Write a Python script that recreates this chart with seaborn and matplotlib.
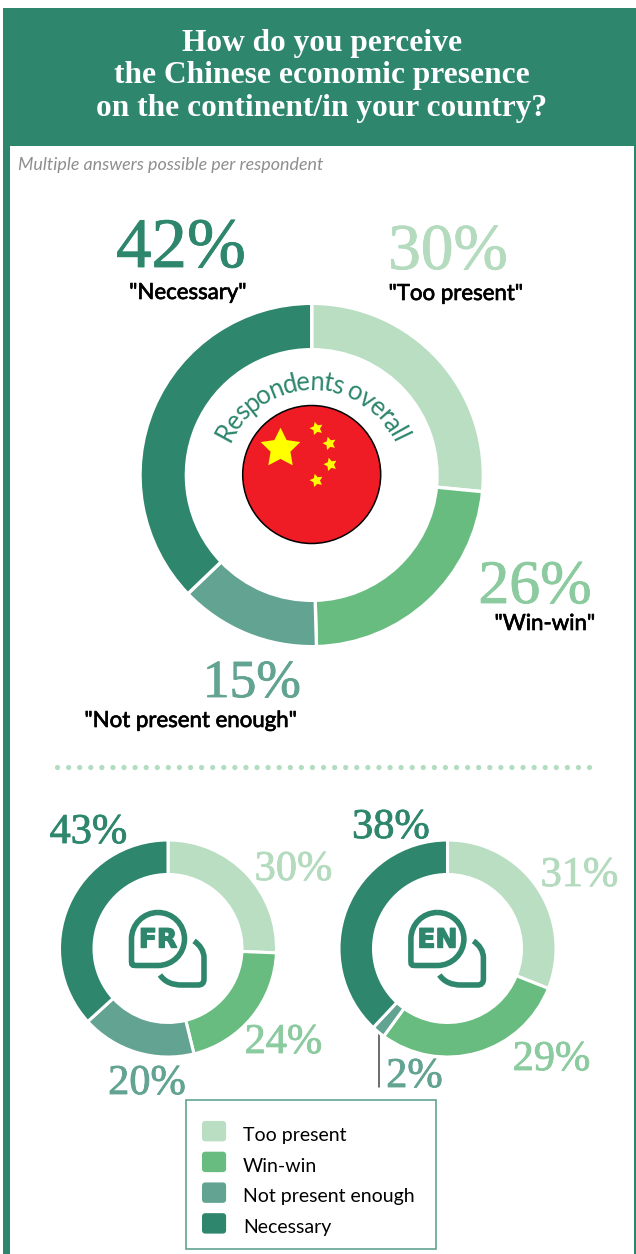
# chinese_presence_donuts.py
# Survey donuts: overall respondents, then French and English speakers.

import matplotlib
matplotlib.use("Agg")
import matplotlib.pyplot as plt
import matplotlib.patheffects as pe
import seaborn as sns
import numpy as np
from matplotlib.font_manager import FontProperties
from matplotlib.legend_handler import HandlerPatch
from matplotlib.patches import Circle, FancyBboxPatch, PathPatch, Patch, Rectangle
from matplotlib.path import Path

categories = ["Too present", "Win-win", "Not present enough", "Necessary"]
overall_values = [30, 26, 15, 42]
fr_values = [30, 24, 20, 43]
en_values = [31, 29, 2, 38]

title = "How do you perceive\nthe Chinese economic presence\non the continent/in your country?"
subtitle = "Multiple answers possible per respondent"
ring_text = "Respondents overall"

W, H = 636, 1254
GREEN = "#2E866D"
MUTED = "#62A391"
slice_colors = sns.color_palette(["#BADEC2", "#69BC7F", MUTED, GREEN])
label_colors = ["#B5DBBF", "#8CCB9F", MUTED, GREEN]

NUM_FONT = "Liberation Serif"
TXT_FONT = "Lato"

sns.set_theme(style="white")
plt.rcParams["font.family"] = [TXT_FONT, "DejaVu Sans"]

fig = plt.figure(figsize=(W / 100, H / 100), dpi=100)
fig.patch.set_facecolor("white")

# Full-figure axes in pixel units (y downwards) for frame, text and icons
ax = fig.add_axes([0, 0, 1, 1])
ax.set_xlim(0, W)
ax.set_ylim(H, 0)
ax.axis("off")


def donut(values, cx, cy, outer, inner, edge):
    # the white slice edge eats into the ring, so draw it a bit wider
    grow = edge * 0.69
    big, small = outer + grow, inner - grow
    pie_ax = fig.add_axes([(cx - big) / W, 1 - (cy + big) / H, 2 * big / W, 2 * big / H])
    pie_ax.pie(values, colors=slice_colors, startangle=90, counterclock=False, radius=1,
               wedgeprops={"width": 1 - small / big, "edgecolor": "white", "linewidth": edge})
    pie_ax.set_xlim(-1, 1)
    pie_ax.set_ylim(-1, 1)
    pie_ax.axis("off")


def pct(value, idx, x, baseline, size):
    t = ax.text(x, baseline, f"{value}%", color=label_colors[idx], fontsize=size, ha="center",
                va="baseline", family=NUM_FONT)
    t.set_path_effects([pe.withStroke(linewidth=0.6, foreground=label_colors[idx])])


def quoted(name, x, baseline):
    t = ax.text(x, baseline, f'"{name}"', color="black", fontsize=16, ha="center", va="baseline")
    t.set_path_effects([pe.withStroke(linewidth=0.5, foreground="black")])


def bubble_icon(dx, code):
    lw = 4
    cx, cy, r = 158 + dx, 939, 26.5
    k = 0.552 * r
    verts = [(cx, cy - r),
             (cx + k, cy - r), (cx + r, cy - k), (cx + r, cy),
             (cx + r, cy + k), (cx + k, cy + r), (cx, cy + r),
             (cx - 20, cy + r),
             (cx - 26.5, cy + r), (cx - 26.5, cy + r), (cx - 26.5, cy + 20),
             (cx - r, cy),
             (cx - r, cy - k), (cx - k, cy - r), (cx, cy - r)]
    codes = [Path.MOVETO] + [Path.CURVE4] * 6 + [Path.LINETO] + [Path.CURVE4] * 3 + [Path.LINETO] + [Path.CURVE4] * 3
    ax.add_patch(PathPatch(Path(verts, codes), fill=False, edgecolor=GREEN, lw=lw))
    verts2 = [(194 + dx, 941),
              (200 + dx, 945), (204 + dx, 951), (204 + dx, 958),
              (204 + dx, 979),
              (204 + dx, 983), (202 + dx, 985), (198 + dx, 985),
              (182 + dx, 985),
              (172 + dx, 985), (165 + dx, 982), (160 + dx, 975)]
    codes2 = [Path.MOVETO] + [Path.CURVE4] * 3 + [Path.LINETO] + [Path.CURVE4] * 3 + [Path.LINETO] + [Path.CURVE4] * 3
    ax.add_patch(PathPatch(Path(verts2, codes2), fill=False, edgecolor=GREEN, lw=lw))
    t = ax.text(cx, cy + 1.5, code, color=GREEN, fontsize=19, fontweight="bold", ha="center", va="center",
                family="DejaVu Sans")
    t.set_path_effects([pe.withStroke(linewidth=1.0, foreground=GREEN)])


class RoundHandle(HandlerPatch):
    def create_artists(self, legend, orig, xd, yd, width, height, fontsize, trans):
        # swatches sit slightly above the text baseline centre
        box = FancyBboxPatch((-xd + 2, -yd + 4.2), width - 4, height - 4, boxstyle="round,pad=2,rounding_size=2.5",
                             facecolor=orig.get_facecolor(), edgecolor="none", transform=trans)
        return [box]


# --- Frame ---
ax.add_patch(Rectangle((3, 8), W - 3, 138, color=GREEN, lw=0))
ax.add_patch(Rectangle((3, 146), 7, H - 146, color=GREEN, lw=0))
ax.add_patch(Rectangle((634, 146), 2, H - 146, color=GREEN, lw=0))
ax.text(322, 76, title, color="white", fontsize=22.6, fontweight="bold", ha="center", va="center",
        family="Liberation Serif", linespacing=1.18)
ax.text(18, 170, subtitle, color="#8E8E8E", fontsize=12.9, style="italic", ha="left", va="baseline")

# --- Overall ---
donut(overall_values, 311.7, 475, 170, 127, 2.4)
pct(overall_values[3], 3, 181, 267, 51)
pct(overall_values[0], 0, 448, 269, 47)
pct(overall_values[1], 1, 535, 603, 44.5)
pct(overall_values[2], 2, 252, 697, 38.5)
quoted(categories[3], 188, 299)
quoted(categories[0], 456, 300)
quoted(categories[1], 545, 630)
quoted(categories[2], 191, 727)

# Flag in the middle
ax.add_patch(Circle((311.7, 474.5), 69, facecolor="#EF1C25", edgecolor="black", lw=1.1))
ax.scatter([280], [448], marker=(5, 1, 0), s=900, color="#FFFF00", lw=0, zorder=3)
ax.scatter([316, 329, 330, 315.7], [427.7, 442.7, 464, 480], marker=(5, 1, 15), s=100,
           color="#FFFF00", lw=0, zorder=3)

# Curved caption around the flag
renderer = fig.canvas.get_renderer()
ring_size = 18.5
ring_props = FontProperties(family=TXT_FONT, size=ring_size)
advance = [renderer.get_text_width_height_descent(ring_text[:i], ring_props, False)[0] if i else 0
           for i in range(len(ring_text) + 1)]
ring_total = advance[-1]
ring_cx, ring_cy, ring_r = 312, 479, 89
ring_span = np.radians(132)
for i, ch in enumerate(ring_text):
    mid = (advance[i] + advance[i + 1]) / 2
    ang = -ring_span / 2 + ring_span * mid / ring_total
    ax.text(ring_cx + ring_r * np.sin(ang), ring_cy - ring_r * np.cos(ang), ch, color=GREEN,
            fontsize=ring_size, rotation=-np.degrees(ang), rotation_mode="anchor",
            ha="center", va="baseline")

# --- Separator ---
ax.plot([56.7, 592], [767, 767], color="#B2DDC0", lw=3.8, linestyle=(0, (0.01, 2.09)), dash_capstyle="round")

# --- By language ---
donut(fr_values, 168, 948.5, 107, 75.5, 2.2)
donut(en_values, 447.5, 948.5, 107, 75.5, 2.2)
bubble_icon(0, "FR")
bubble_icon(279.4, "EN")

pct(fr_values[3], 3, 88.5, 843, 30.5)
pct(fr_values[0], 0, 293.5, 880, 30.5)
pct(fr_values[1], 1, 283.5, 1053, 30.5)
pct(fr_values[2], 2, 147, 1094, 30.5)
pct(en_values[3], 3, 391, 838, 30.5)
pct(en_values[0], 0, 579.5, 886, 30.5)
pct(en_values[1], 1, 551.5, 1070, 30.5)
pct(en_values[2], 2, 414.5, 1087, 30.5)

ax.plot([378.7, 378.7], [1029, 1087], color="#444444", lw=1.1)

# --- Legend ---
ax.add_patch(Rectangle((186, 1100), 250, 149, facecolor="white", edgecolor=MUTED, lw=1.2, zorder=4))
handles = [Patch(facecolor=c, label=n) for c, n in zip(slice_colors, categories)]
leg = ax.legend(handles=handles, loc="upper left", bbox_to_anchor=(202 / W, 1 - 1124 / H), borderaxespad=0,
                fontsize=14, frameon=False, handlelength=1.24, handleheight=1.24, handletextpad=0.87,
                labelspacing=0.53, borderpad=0, labelcolor="black", handler_map={Patch: RoundHandle()})
leg.set_zorder(5)

fig.savefig("out.png", dpi=100)
plt.close(fig)
